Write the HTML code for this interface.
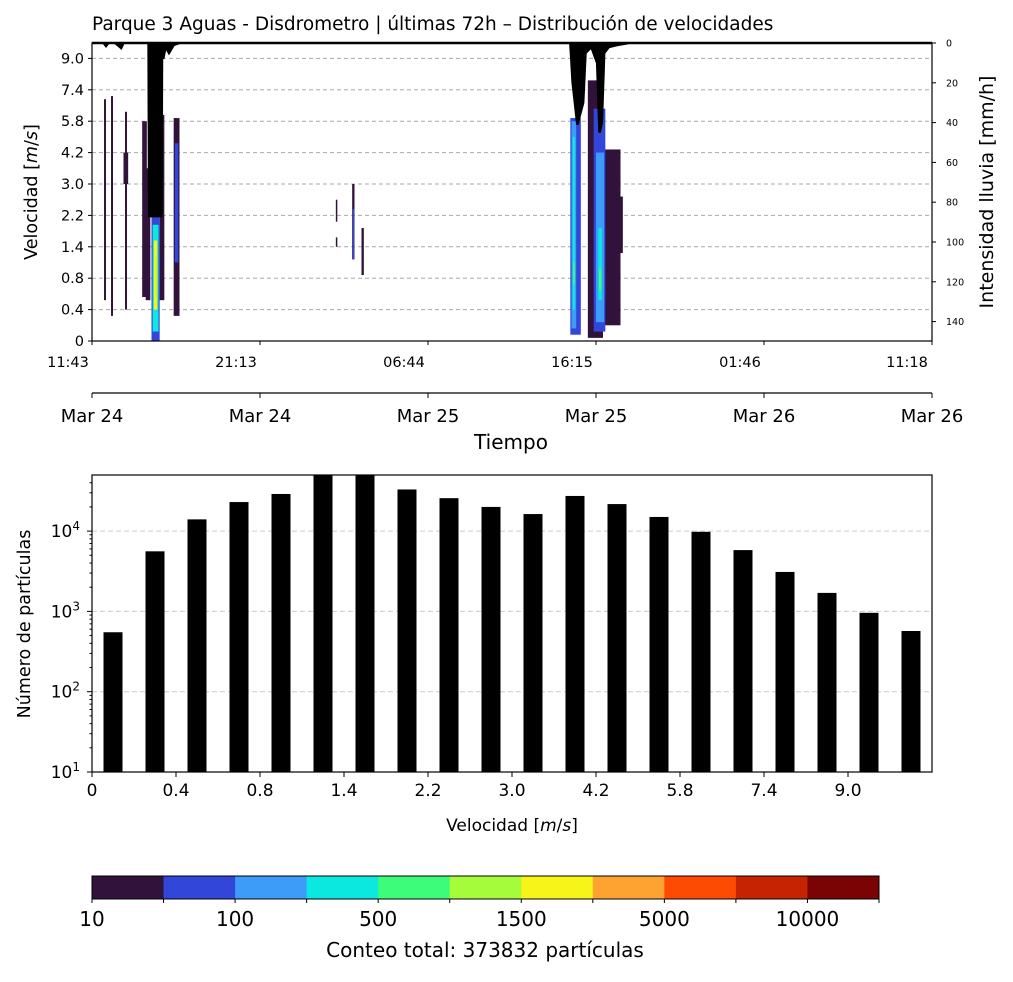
<!DOCTYPE html>
<html><head><meta charset="utf-8"><style>
body{margin:0;background:#fff;font-family:"Liberation Sans","DejaVu Sans",sans-serif}
svg text{font-family:"DejaVu Sans","Liberation Sans",sans-serif;fill:#000}
</style></head><body>
<svg id="c" width="1013" height="977" xmlns="http://www.w3.org/2000/svg"></svg>
<script>
// ---------- data ----------
const velLabels=["0","0.4","0.8","1.4","2.2","3.0","4.2","5.8","7.4","9.0"];
const timeLabels=["11:43","21:13","06:44","16:15","01:46","11:18"];
const dateLabels=["Mar 24","Mar 24","Mar 25","Mar 25","Mar 26","Mar 26"];
const rainTicks=[0,20,40,60,80,100,120,140];
// heatmap streaks: [tStart(h), tEnd(h), vLow(idx), vHigh(idx), level]
const streakT0=[1.03,1.63,2.83,2.7,4.3,4.6,5.8,5.1,5.2,5.3,5.4,7.0,7.1,20.9,20.9,22.3,22.35,23.1,41.0,41.1,41.2,41.25,42.5,43.8,43.0,43.2,43.4,43.45,45.3];
const streakT1=[1.2,1.8,3.0,3.1,4.7,5.0,6.2,5.8,5.7,5.6,5.6,7.5,7.4,21.0,21.0,22.5,22.45,23.3,41.9,41.5,41.4,41.35,43.8,45.3,44.0,43.9,43.7,43.65,45.5];
const streakV0=[1.3,0.8,1.0,5.0,1.4,1.3,1.3,0,0.3,1.0,1.4,0.8,2.5,3.8,3.0,2.6,2.6,2.1,0.2,0.4,1.0,1.8,0.1,0.5,0.3,0.6,1.3,1.6,2.8];
const streakV1=[7.7,7.8,7.3,6.0,7.0,5.5,7.2,4.0,3.7,3.2,2.7,7.1,6.3,4.5,3.3,5.0,4.2,3.6,7.1,7.0,6.5,2.5,8.3,6.1,7.4,6.0,3.6,2.3,4.6];
const streakL=[0,0,0,0,0,0,0,1,3,5,6,0,1,0,0,0,1,0,1,2,3,4,0,0,1,2,3,4,0];
const rainT=[0,1,1.2,1.4,2,2.5,2.7,3,4,4.85,4.9,5.95,6.0,6.1,6.3,6.6,7,7.5,8,41.0,41.2,41.6,42.1,42.3,42.8,43.3,43.5,43.7,43.9,44.3,45,46,72];
const rainI=[0,0,1.5,0,0,2.5,0,0,0,0,87,87,5,8,2,5,1,0,0,0,20,41,30,5,2,10,45,40,5,2,1,0,0];
const barCats=["0","0.4","0.8","1.4","2.2","3.0","4.2","5.8","7.4","9.0"];
const barCounts=[550,5600,14000,23000,29000,60000,60000,33000,25700,20000,16300,27400,21700,15000,9800,5800,3100,1700,960,570];
const logTicks=[1,2,3,4];
const cbLabels=["10","100","500","1500","5000","10000"];
const cbColors=["#30123b","#3246d9","#3c9cf8","#0ae8e0","#3dfc7a","#a4fc3b","#f6f419","#fea331","#fe4b03","#c52302","#7a0403"];
const heatColors=["#30123b","#3246d9","#3c9cf8","#0ae8e0","#3dfc7a","#f6f419","#e8f020"];
const totalCount=373832;
// ---------- helpers ----------
const S=document.getElementById('c'),NS="http://www.w3.org/2000/svg";
function el(t,a,txt,p){const e=document.createElementNS(NS,t);for(const k in a)e.setAttribute(k,a[k]);if(txt!=null)e.textContent=txt;(p||S).appendChild(e);return e;}
const X0=92,X1=932,Y0=341,YT=43;
const xT=t=>X0+t*(X1-X0)/72;
const yV=v=>Y0-v*31.4;
const yR=r=>YT+r*1.99;
velLabels.forEach((l,i)=>{const y=yV(i);
 if(i>0){const g=el('line',{x1:X0,x2:X1,y1:y,y2:y,stroke:'#aaa','stroke-dasharray':'4,3'});
 }
 el('line',{x1:X0-4,x2:X0,y1:y,y2:y,stroke:'#000'});
 const t=el('text',{x:X0-8,y:y+5,'text-anchor':'end','font-size':14.5},l);
 });
const hm=el('g',{});
streakT0.forEach((t0,i)=>{const r=el('rect',{x:xT(t0),y:yV(streakV1[i]),width:Math.max(1.5,xT(streakT1[i])-xT(t0)),height:yV(streakV0[i])-yV(streakV1[i]),fill:heatColors[streakL[i]]},null,hm);
 });
let d='M'+xT(rainT[0])+','+yR(0);rainT.forEach((t,i)=>{d+=' L'+xT(t)+','+yR(rainI[i]);});d+=' L'+xT(72)+','+yR(0)+'Z';
const rp=el('path',{d:d,fill:'#000',stroke:'#000','stroke-width':2.5});

const fr=el('rect',{x:X0,y:YT,width:X1-X0,height:Y0-YT,fill:'none',stroke:'#000','stroke-width':1.2});

rainTicks.forEach(r=>{const y=yR(r);el('line',{x1:X1,x2:X1+4,y1:y,y2:y,stroke:'#000'});
 const t=el('text',{x:X1+14,y:y+3.5,'font-size':9.5},r);});
timeLabels.forEach((l,i)=>{const x=X0+168*i;el('line',{x1:x,x2:x,y1:Y0,y2:Y0+4,stroke:'#000'});
 const t=el('text',{x:x-24+(i==5?-1:0),y:Y0+26,'text-anchor':'middle','font-size':14.5},l);});
el('line',{x1:X0,x2:X1,y1:393,y2:393,stroke:'#000','stroke-width':1.2});
dateLabels.forEach((l,i)=>{const x=X0+168*i;el('line',{x1:x,x2:x,y1:393,y2:398,stroke:'#000'});
 const t=el('text',{x:x,y:422,'text-anchor':'middle','font-size':18},l);});
let t;
t=el('text',{x:92,y:30,'font-size':18.5},'Parque 3 Aguas - Disdrometro | últimas 72h – Distribución de velocidades');
t=el('text',{x:511,y:449,'text-anchor':'middle','font-size':20},'Tiempo');
t=el('text',{x:0,y:0,'text-anchor':'middle','font-size':17.5,transform:'translate(37,192) rotate(-90)'});t.innerHTML='Velocidad [<tspan font-style="italic">m</tspan>/<tspan font-style="italic">s</tspan>]';
t=el('text',{x:0,y:0,'text-anchor':'middle','font-size':19,transform:'translate(993,192) rotate(-90)'},'Intensidad lluvia [mm/h]');
// bar chart
const BY0=772,BYT=475;const yL=v=>BY0-(Math.log10(v)-1)*80.3;
logTicks.forEach(p=>{const y=yL(Math.pow(10,p));
 if(p>1){const g=el('line',{x1:X0,x2:X1,y1:y,y2:y,stroke:'#ccc','stroke-dasharray':'5,3'});}
 el('line',{x1:X0-5,x2:X0,y1:y,y2:y,stroke:'#000'});
 const tt=el('text',{x:X0-12,y:y+6,'text-anchor':'end','font-size':17});tt.innerHTML='10<tspan dy="-7" font-size="12">'+p+'</tspan>';
 for(let m=2;m<10;m++){const v=m*Math.pow(10,p);if(yL(v)<BYT)break;const yy=yL(v);el('line',{x1:X0-2.5,x2:X0,y1:yy,y2:yy,stroke:'#000'});}});
const bg=el('g',{});
barCounts.forEach((c,i)=>{const cx=113+42*i;const top=Math.max(BYT,yL(c));
 const r=el('rect',{x:cx-9.5,y:top,width:19,height:BY0-top,fill:'#000'},null,bg);});
const bf=el('rect',{x:X0,y:BYT,width:X1-X0,height:BY0-BYT,fill:'none',stroke:'#000','stroke-width':1.2});
barCats.forEach((l,i)=>{const x=X0+84*i;el('line',{x1:x,x2:x,y1:BY0,y2:BY0+5,stroke:'#000'});
 const tt=el('text',{x:x,y:BY0+24,'text-anchor':'middle','font-size':17},l);});
t=el('text',{x:512,y:831,'text-anchor':'middle','font-size':17});t.innerHTML='Velocidad [<tspan font-style="italic">m</tspan>/<tspan font-style="italic">s</tspan>]';
t=el('text',{x:0,y:0,'text-anchor':'middle','font-size':17.5,transform:'translate(30,624) rotate(-90)'},'Número de partículas');
// colorbar
const cw=(879-92)/cbColors.length;
cbColors.forEach((c,i)=>{const r=el('rect',{x:92+cw*i,y:876,width:cw+0.5,height:23,fill:c});});
const cf=el('rect',{x:92,y:876,width:787,height:23,fill:'none',stroke:'#000'});
for(let i=0;i<=cbColors.length;i++){const x=92+cw*i;el('line',{x1:x,x2:x,y1:899,y2:903,stroke:'#000'});}
cbLabels.forEach((l,i)=>{const tt=el('text',{x:92+cw*2*i,y:926,'text-anchor':'middle','font-size':20},l);});
t=el('text',{x:485,y:957,'text-anchor':'middle','font-size':20},'Conteo total: '+totalCount+' partículas');
</script>
</body></html>
